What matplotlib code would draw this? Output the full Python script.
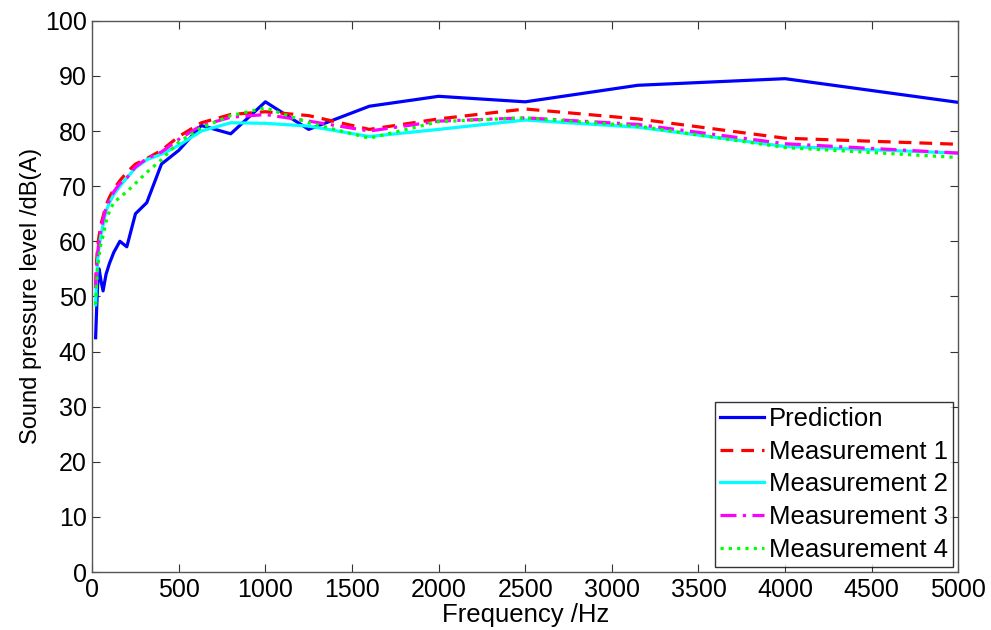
import numpy as np
import matplotlib
matplotlib.use('Agg')
import matplotlib.pyplot as plt

plt.rcParams['font.family'] = ['Liberation Sans', 'DejaVu Sans']

# 1/3 octave band centre frequencies
freq = [20, 25, 31.5, 40, 50, 63, 80, 100, 125, 160, 200, 250, 315, 400, 500,
        630, 800, 1000, 1250, 1600, 2000, 2500, 3150, 4000, 5000]

prediction = [42.5, 47, 52, 55, 53, 51, 54, 56, 58, 60, 59, 65, 67, 74, 76.5,
              81, 79.5, 85.3, 80.3, 84.5, 86.3, 85.3, 88.3, 89.5, 85.2]
meas1 = [52, 56, 59, 61, 63, 64.5, 66.5, 68, 69.5, 71, 72.5, 74, 75, 76.5, 79,
         81.5, 83, 83.5, 82.8, 80.3, 82.2, 84, 82.2, 78.7, 77.6]
meas2 = [48.5, 53, 56.5, 59, 61, 63, 65.5, 67, 68.5, 70, 71.5, 73.3, 74.8, 75.8, 77.4,
         80, 81.5, 81.4, 80.9, 79, 80.3, 82, 80.7, 77.2, 76]
meas3 = [51.5, 55, 58, 60, 62, 64, 66, 67.5, 69, 70.5, 71.5, 73.5, 75, 76.2, 78.5,
         81, 82.5, 83, 81.8, 80, 81.8, 82.4, 81.2, 77.7, 76]
meas4 = [48.5, 52, 55, 57.5, 59.5, 61, 63.5, 65.5, 67, 68, 69, 70.5, 72.5, 74.8, 78,
         80.6, 82.8, 84.2, 81.5, 78.7, 81.7, 82.4, 80.9, 77, 75.2]

fig = plt.figure(figsize=(9.91, 6.30), dpi=100)
ax = fig.add_axes([0.093, 0.092, 0.874, 0.875])

lw = 2.3
ax.plot(freq, prediction, color='#0000ff', lw=lw, ls='-', label='Prediction')
ax.plot(freq, meas1, color='#ff0000', lw=lw, ls=(0, (4, 2.5)), label='Measurement 1')
ax.plot(freq, meas2, color='#00ffff', lw=lw, ls='-', label='Measurement 2')
ax.plot(freq, meas3, color='#ff00ff', lw=lw, ls=(0, (5, 2, 1, 2)), label='Measurement 3')
ax.plot(freq, meas4, color='#00ff00', lw=lw, ls=(0, (1, 1.6)), label='Measurement 4')

ax.set_xlim(0, 5000)
ax.set_ylim(0, 100)
ax.set_xticks(np.arange(0, 5001, 500))
ax.set_yticks(np.arange(0, 101, 10))
ax.tick_params(direction='in', top=True, right=True, labelsize=18, length=6,
               color='#333333', pad=4)
for s in ax.spines.values():
    s.set_color('#555555')
    s.set_linewidth(1.0)

ax.set_xlabel('Frequency /Hz', fontsize=18.5, labelpad=1)
ax.set_ylabel('Sound pressure level /dB(A)', fontsize=17, labelpad=2)

leg = ax.legend(loc='lower right', fontsize=18.5, frameon=True, fancybox=False,
                handlelength=1.7, handletextpad=0.2, labelspacing=0.34,
                borderpad=0.2, borderaxespad=0.2)
leg.get_frame().set_edgecolor('black')
leg.get_frame().set_linewidth(1.0)

fig.savefig('out.png', dpi=100)
